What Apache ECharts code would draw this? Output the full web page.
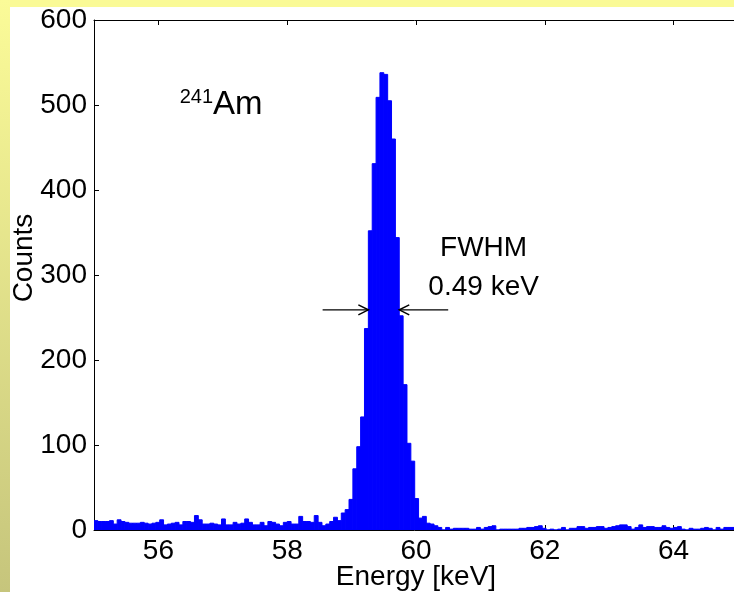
<!DOCTYPE html>
<html><head><meta charset="utf-8">
<script src="https://cdn.jsdelivr.net/npm/echarts@6/dist/echarts.min.js"></script>
<style>html,body{margin:0;padding:0;background:#fff}#c{width:734px;height:592px}</style>
</head><body><div id="c"></div>
<script>
// ---- data ----
const binStart = 55.0;   // keV, lower edge of first histogram bin
const binWidth = 0.06;   // keV
const counts = [
  11,10,10,10,11,7,12,10,9,8, 8,8,9,8,7,8,9,12,6,7, 8,9,6,10,10,9,17,12,7,7, 8,7,6,13,6,6,9,7,8,13, 9,
  6,6,9,5,10,9,7,5,9,10, 7,7,16,10,10,9,17,9,5,7, 10,15,11,20,24,36,
  72,98,133,237,352,431,509,538,536,505,460,344,252,171,102,81,37,14,16,8,7,5,
  3,0,3,1,2,2,2,2,1,1, 3,1,3,4,5,0,1,1,1,1, 1,2,2,3,3,4,5,2,0,1, 0,1,3,0,2,2,4,4,2,3,
  3,4,4,2,3,4,5,6,6,4, 1,3,6,3,4,4,3,3,5,3, 2,3,4,1,0,2,1,1,2,3, 2,0,3,1,3,3,3
];
const xTicks = [56, 58, 60, 62, 64];
const yTicks = [0, 100, 200, 300, 400, 500, 600];
const xRange = [55, 65];
const yRange = [0, 600];
const xLabel = 'Energy [keV]';
const yLabel = 'Counts';
const isotope = {sup: '241', sym: 'Am', x: 56.33, y: 500};
const fwhmText = ['FWHM', '0.49 keV'];
const fwhmTextPos = {x: 61.05, y1: 331, y2: 286};
const arrowY = 259;
const leftArrow = [58.55, 59.26];
const rightArrow = [60.50, 59.74];

// ---- chart ----
const FONT = '"Liberation Sans", Arial, Helvetica, sans-serif';
const FS = 28;
const chart = echarts.init(document.getElementById('c'), null, {renderer: 'canvas'});
const data = counts.map((c, i) => [binStart + i * binWidth, binStart + (i + 1) * binWidth, c]);

const tickStyle = {color: '#000', width: 1};
chart.setOption({
  animation: false,
  backgroundColor: '#ffffff',
  grid: {left: 94, top: 20, bottom: 62, width: 644, containLabel: false, outerBoundsMode: 'none'},
  xAxis: [{
    type: 'value', min: xRange[0], max: xRange[1], position: 'bottom',
    axisLine: {show: true, lineStyle: {color: '#000', width: 1}},
    axisTick: {show: true, inside: true, length: 5, customValues: xTicks, lineStyle: tickStyle},
    axisLabel: {show: true, customValues: xTicks, color: '#000', fontSize: FS, fontFamily: FONT, margin: 7},
    splitLine: {show: false},
    name: xLabel, nameLocation: 'middle', nameGap: 33, nameMoveOverlap: false,
    nameTextStyle: {color: '#000', fontSize: FS, fontFamily: FONT}
  }, {
    type: 'value', min: xRange[0], max: xRange[1], position: 'top',
    axisLine: {show: true, lineStyle: {color: '#000', width: 1}},
    axisTick: {show: true, inside: true, length: 5, customValues: xTicks, lineStyle: tickStyle},
    axisLabel: {show: false}, splitLine: {show: false}
  }],
  yAxis: [{
    type: 'value', min: yRange[0], max: yRange[1], interval: 100,
    axisLine: {show: true, lineStyle: {color: '#000', width: 1}},
    axisTick: {show: true, inside: true, length: 5, lineStyle: tickStyle},
    axisLabel: {show: true, color: '#000', fontSize: FS, fontFamily: FONT, margin: 7,
      customValues: yTicks},
    splitLine: {show: false}
  }],
  series: [{
    type: 'custom', xAxisIndex: 0, yAxisIndex: 0, clip: true,
    encode: {x: [0, 1], y: 2},
    data: data,
    renderItem: function (params, api) {
      const p0 = api.coord([api.value(0), api.value(2)]);
      const p1 = api.coord([api.value(1), 0]);
      return {
        type: 'rect',
        shape: {x: p0[0], y: p0[1], width: p1[0] - p0[0], height: p1[1] - p0[1]},
        style: {fill: '#0000ff', stroke: '#0000ff', lineWidth: 1}
      };
    }
  }]
});

const px = (x, y) => chart.convertToPixel({xAxisIndex: 0, yAxisIndex: 0}, [x, y]);
function arrow(x0, x1, y) {
  const a = px(x0, y), b = px(x1, y);
  const dir = b[0] > a[0] ? 1 : -1;
  const head = 10, half = 5;
  return [{
    type: 'line', shape: {x1: a[0], y1: a[1], x2: b[0], y2: b[1]},
    style: {stroke: '#000', lineWidth: 1.3}, z: 100
  }, {
    type: 'polyline',
    shape: {points: [[b[0] - dir * head, b[1] - half], [b[0], b[1]], [b[0] - dir * head, b[1] + half]]},
    style: {stroke: '#000', lineWidth: 1.5, fill: null}, z: 100
  }];
}
const isoP = px(isotope.x, isotope.y);
const f1 = px(fwhmTextPos.x, fwhmTextPos.y1);
const f2 = px(fwhmTextPos.x, fwhmTextPos.y2);
const yMid = px(xRange[0], 320);

chart.setOption({
  graphic: [
    {type: 'rect', shape: {x: 0, y: 0, width: 734, height: 7}, style: {fill: '#fafa96'}, z: -5, silent: true},
    {type: 'rect', shape: {x: 0, y: 0, width: 10, height: 592}, silent: true, z: -5,
      style: {fill: new echarts.graphic.LinearGradient(0, 0, 0, 1, [
        {offset: 0, color: '#fbfb98'}, {offset: 1, color: '#c6c57c'}])}},
    {type: 'text', x: 24, y: yMid[1], rotation: Math.PI / 2, z: 100,
      style: {text: yLabel, fontSize: FS, fontFamily: FONT, fill: '#000', align: 'center', verticalAlign: 'middle'}},
    {type: 'text', x: isoP[0], y: isoP[1], z: 100,
      style: {text: '{s|' + isotope.sup + '}{b|' + isotope.sym + '}', align: 'left', verticalAlign: 'middle',
        rich: {
          s: {fontSize: 20, fontFamily: FONT, fill: '#000', verticalAlign: 'top', padding: [0, 0, 15, 0]},
          b: {fontSize: 33, fontFamily: FONT, fill: '#000'}
        }}},
    {type: 'text', x: f1[0], y: f1[1], z: 100,
      style: {text: fwhmText[0], fontSize: FS, fontFamily: FONT, fill: '#000', align: 'center', verticalAlign: 'middle'}},
    {type: 'text', x: f2[0], y: f2[1], z: 100,
      style: {text: fwhmText[1], fontSize: FS, fontFamily: FONT, fill: '#000', align: 'center', verticalAlign: 'middle'}},
    ...arrow(leftArrow[0], leftArrow[1], arrowY),
    ...arrow(rightArrow[0], rightArrow[1], arrowY)
  ]
});
</script>
</body></html>
